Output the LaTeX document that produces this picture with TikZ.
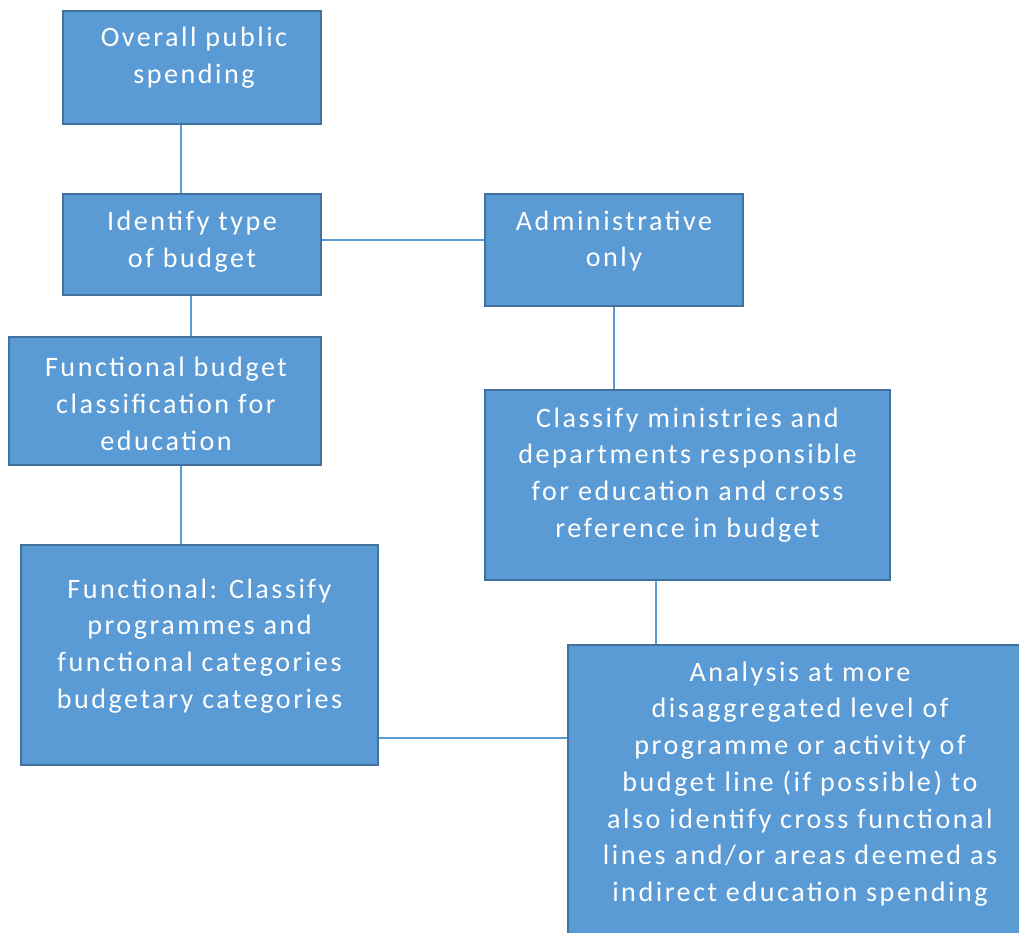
\documentclass[tikz,border=0pt]{standalone}
\usepackage{fontspec}
\newfontfamily\boxfont[LetterSpace=9]{Carlito}
\usepackage{tikz}
\usetikzlibrary{positioning}
\definecolor{boxfill}{HTML}{5B9BD5}
\definecolor{boxline}{HTML}{41719C}
\tikzset{
	blk/.style = {draw=boxline, fill=boxfill, line width=1.1pt, rectangle, inner sep=0pt},
	txt/.style = {text=white, align=center, inner sep=0pt, font=\boxfont\fontsize{16}{20.9}\selectfont},
	link/.style = {draw=boxfill, line width=1.1pt}
}
\begin{document}
\begin{tikzpicture}[x=0.02cm, y=-0.02cm]
			\useasboundingbox (0,0) rectangle (1019,933);
			\clip (0,0) rectangle (1019,933);

			\node[blk, minimum width=5.16cm, minimum height=2.26cm] (spend) at (192,67.5) {};
			\node[blk, minimum width=5.16cm, minimum height=2.02cm] (budtype) at (192,244.5) {};
			\node[blk, minimum width=5.16cm, minimum height=2.24cm] (admin) at (614,250) {};
			\node[blk, minimum width=6.24cm, minimum height=2.56cm] (funcbud) at (165,401) {};
			\node[blk, minimum width=8.10cm, minimum height=3.80cm] (ministry) at (687.5,485) {};
			\node[blk, minimum width=7.14cm, minimum height=4.40cm] (funcclass) at (199.5,655) {};
			\node[blk, minimum width=9.24cm, minimum height=6.00cm] (analysis) at (799,795) {};

			\node[txt] (spendtxt) at (194,58) {Overall public\\spending};
			\node[txt] (budtypetxt) at (192,242) {Identify type\\of budget};
			\node[txt] (admintxt) at (614,241) {Administrative\\only};
			\node[txt] (funcbudtxt) at (166,404) {Functional budget\\classification for\\education};
			\node[txt] (ministrytxt) at (687.5,475) {Classify ministries and\\departments responsible\\for education and cross\\reference in budget};
			\node[txt] (funcclasstxt) at (199.5,646) {Functional: Classify\\programmes and\\functional categories\\budgetary categories};
			\node[txt] (analysistxt) at (800,784) {Analysis at more\\disaggregated level of\\programme or activity of\\budget line (if possible) to\\also identify cross functional\\lines and/or areas deemed as\\indirect education spending};

			\draw[link] (spend.south -| 181,0) -- (budtype.north -| 181,0);
			\draw[link] (budtype.east |- 0,240) -- (admin.west |- 0,240);
			\draw[link] (budtype.south -| 191,0) -- (funcbud.north -| 191,0);
			\draw[link] (admin.south) -- (ministry.north -| admin.south);
			\draw[link] (funcbud.south -| 181,0) -- (funcclass.north -| 181,0);
			\draw[link] (ministry.south -| 656,0) -- (analysis.north -| 656,0);
			\draw[link] (funcclass.east |- 0,738) -- (analysis.west |- 0,738);
        \end{tikzpicture}
\end{document}
